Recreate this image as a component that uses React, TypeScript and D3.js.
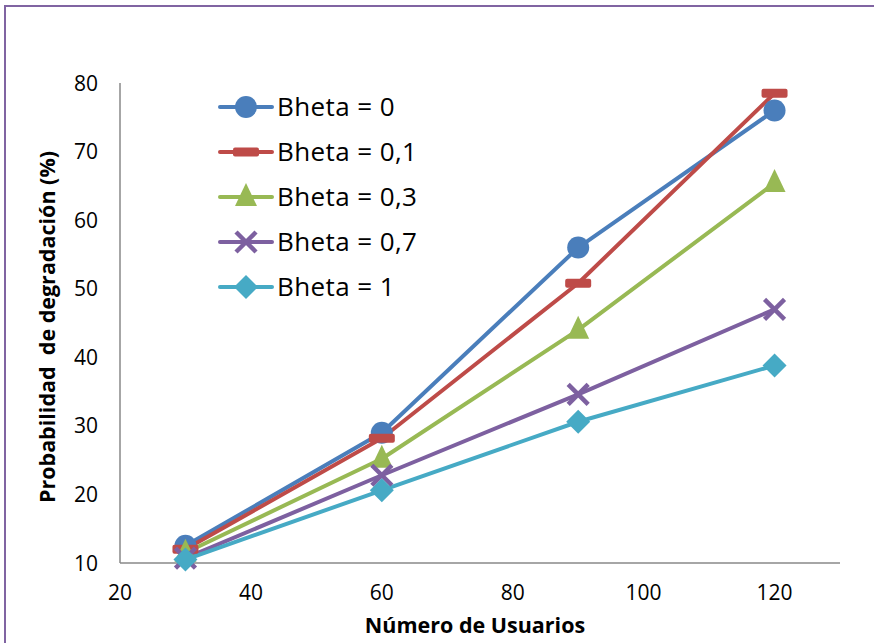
import React from "react";
import * as d3 from "d3";

const usuarios = [30, 60, 90, 120];
const bheta0 = [12.5, 29, 56, 76];
const bheta01 = [12, 28.2, 50.8, 78.5];
const bheta03 = [11.5, 25.2, 44, 65.4];
const bheta07 = [10.7, 22.8, 34.6, 47];
const bheta1 = [10.5, 20.6, 30.6, 38.8];

const seriesNames = ["Bheta = 0", "Bheta = 0,1", "Bheta = 0,3", "Bheta = 0,7", "Bheta = 1"];
const seriesValues = [bheta0, bheta01, bheta03, bheta07, bheta1];
const seriesColors = ["#4A7EBB", "#BE4B48", "#98B954", "#7D60A0", "#46AAC5"];
const markerKinds = ["circle", "dash", "triangle", "x", "diamond"];

const xTicks = [20, 40, 60, 80, 100, 120];
const yTicks = [10, 20, 30, 40, 50, 60, 70, 80];

const W = 874;
const H = 643;
const FONT = "'Open Sans', 'Liberation Sans', sans-serif";

function Marker({ kind, x, y, color }: { kind: string; x: number; y: number; color: string }) {
  if (kind === "circle") return <circle cx={x} cy={y} r={11} fill={color} />;
  if (kind === "dash") return <rect x={x - 13} y={y - 4.5} width={26} height={9} rx={2} fill={color} />;
  if (kind === "triangle")
    return <path d={`M${x},${y - 14} L${x + 11},${y + 9} L${x - 11},${y + 9} Z`} fill={color} />;
  if (kind === "diamond")
    return <path d={`M${x},${y - 12} L${x + 12},${y} L${x},${y + 12} L${x - 12},${y} Z`} fill={color} />;
  return (
    <g stroke={color} strokeWidth={4.5}>
      <line x1={x - 10} y1={y - 10} x2={x + 10} y2={y + 10} />
      <line x1={x - 10} y1={y + 10} x2={x + 10} y2={y - 10} />
    </g>
  );
}

export default function App() {
  const x = d3.scaleLinear().domain([20, 130]).range([120, 840]);
  const y = d3.scaleLinear().domain([10, 80]).range([563, 83]);
  const line = d3
    .line<[number, number]>()
    .x((d) => x(d[0]))
    .y((d) => y(d[1]));

  return (
    <svg
      width={W}
      height={H}
      style={{ position: "absolute", left: 0, top: 0, background: "#fff" }}
      fontFamily={FONT}
    >
      <rect x={5} y={6} width={W + 10} height={H + 10} fill="none" stroke="#8064A2" strokeWidth={2} />

      {/* axes */}
      <line x1={x(20)} x2={x(20)} y1={y(10)} y2={y(80)} stroke="#888" strokeWidth={1.5} />
      <line x1={x(20)} x2={x(130)} y1={y(10)} y2={y(10)} stroke="#888" strokeWidth={1.5} />

      {yTicks.map((t) => (
        <text key={t} x={98} y={y(t)} dy="0.36em" textAnchor="end" fontSize={21} fill="#000">
          {t}
        </text>
      ))}
      {xTicks.map((t) => (
        <text key={t} x={x(t)} y={600} textAnchor="middle" fontSize={21} fill="#000">
          {t}
        </text>
      ))}

      <text x={475} y={633} textAnchor="middle" fontSize={21.5} fontWeight="bold" fill="#000">
        Número de Usuarios
      </text>
      <text
        transform={`translate(55,327) rotate(-90)`}
        textAnchor="middle"
        fontSize={21.5}
        fontWeight="bold"
        fill="#000"
        style={{ whiteSpace: "pre" }}
      >
        {"Probabilidad  de degradación (%)"}
      </text>

      {/* series */}
      {seriesValues.map((vals, i) => {
        const pts = usuarios.map((u, j) => [u, vals[j]] as [number, number]);
        return (
          <g key={i}>
            <path d={line(pts) ?? ""} fill="none" stroke={seriesColors[i]} strokeWidth={4} strokeLinejoin="round" />
          </g>
        );
      })}
      {seriesValues.map((vals, i) => (
        <g key={"m" + i}>
          {usuarios.map((u, j) => (
            <Marker key={j} kind={markerKinds[i]} x={x(u)} y={y(vals[j])} color={seriesColors[i]} />
          ))}
        </g>
      ))}

      {/* legend */}
      {seriesNames.map((name, i) => {
        const ly = 107 + i * 45;
        return (
          <g key={name}>
            <line x1={220} x2={272} y1={ly} y2={ly} stroke={seriesColors[i]} strokeWidth={4} strokeLinecap="round" />
            <Marker kind={markerKinds[i]} x={246} y={ly} color={seriesColors[i]} />
            <text x={277} y={ly} dy="0.36em" fontSize={26} letterSpacing={0.4} fill="#000">
              {name}
            </text>
          </g>
        );
      })}
    </svg>
  );
}
